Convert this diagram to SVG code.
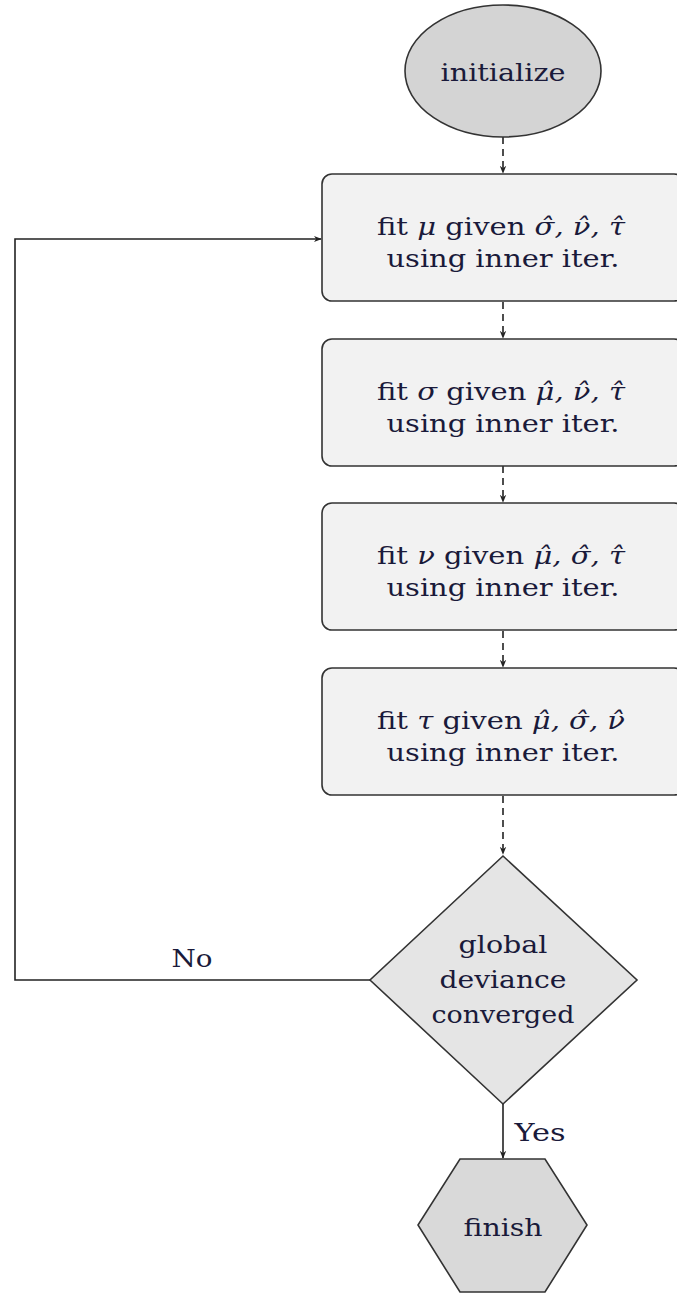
<svg xmlns="http://www.w3.org/2000/svg" width="677" height="1294" viewBox="0 0 677 1294">
<style>
.t{font-family:'DejaVu Serif',serif;font-size:25px;fill:#1a1a3a;text-anchor:middle}
.m{font-style:italic}
.box{fill:#f2f2f2;stroke:#333;stroke-width:1.6}
.c{fill:none;stroke:#222;stroke-width:1.6}
.d{stroke-dasharray:7 5}
</style>
<defs>
<marker id="ah" viewBox="0 0 10 10" refX="9" refY="5" markerWidth="8" markerHeight="8" markerUnits="userSpaceOnUse" orient="auto">
<path d="M0,1 L10,5 L0,9 L3,5 Z" fill="#222"/>
</marker>
</defs>
<g id="connectors">
<path class="c d" d="M503,137 V173" marker-end="url(#ah)"/>
<path class="c d" d="M503,302 V338" marker-end="url(#ah)"/>
<path class="c d" d="M503,466 V502" marker-end="url(#ah)"/>
<path class="c d" d="M503,631 V667" marker-end="url(#ah)"/>
<path class="c d" d="M503,796 V854" marker-end="url(#ah)"/>
<path class="c" d="M370,980 H15 V239 H321" marker-end="url(#ah)"/>
<path class="c" d="M503,1104 V1158" marker-end="url(#ah)"/>
<text class="t" x="192" y="967" textLength="41" lengthAdjust="spacingAndGlyphs">No</text>
<text class="t" x="540" y="1141" textLength="51" lengthAdjust="spacingAndGlyphs">Yes</text>
</g>
<g id="initialize">
<ellipse cx="503" cy="71" rx="98" ry="66" fill="#d4d4d4" stroke="#333" stroke-width="1.6"/>
<text class="t" x="503" y="81" textLength="125" lengthAdjust="spacingAndGlyphs">initialize</text>
</g>
<g id="fit_mu">
<rect class="box" x="322" y="174" width="362" height="127" rx="10"/>
<text class="t" x="501" y="235" textLength="248" lengthAdjust="spacingAndGlyphs">fit <tspan class="m">μ</tspan> given <tspan class="m">σ̂, ν̂, τ̂</tspan></text>
<text class="t" x="503" y="267" textLength="233" lengthAdjust="spacingAndGlyphs">using inner iter.</text>
</g>
<g id="fit_sigma">
<rect class="box" x="322" y="339" width="362" height="127" rx="10"/>
<text class="t" x="501" y="400" textLength="248" lengthAdjust="spacingAndGlyphs">fit <tspan class="m">σ</tspan> given <tspan class="m">μ̂, ν̂, τ̂</tspan></text>
<text class="t" x="503" y="432" textLength="233" lengthAdjust="spacingAndGlyphs">using inner iter.</text>
</g>
<g id="fit_nu">
<rect class="box" x="322" y="503" width="362" height="127" rx="10"/>
<text class="t" x="501" y="564" textLength="248" lengthAdjust="spacingAndGlyphs">fit <tspan class="m">ν</tspan> given <tspan class="m">μ̂, σ̂, τ̂</tspan></text>
<text class="t" x="503" y="596" textLength="233" lengthAdjust="spacingAndGlyphs">using inner iter.</text>
</g>
<g id="fit_tau">
<rect class="box" x="322" y="668" width="362" height="127" rx="10"/>
<text class="t" x="501" y="729" textLength="248" lengthAdjust="spacingAndGlyphs">fit <tspan class="m">τ</tspan> given <tspan class="m">μ̂, σ̂, ν̂</tspan></text>
<text class="t" x="503" y="761" textLength="233" lengthAdjust="spacingAndGlyphs">using inner iter.</text>
</g>
<g id="converged">
<polygon points="503,856 637,980 503,1104 370,980" fill="#e5e5e5" stroke="#333" stroke-width="1.6"/>
<text class="t" x="503" y="953" textLength="89" lengthAdjust="spacingAndGlyphs">global</text>
<text class="t" x="503" y="988" textLength="127" lengthAdjust="spacingAndGlyphs">deviance</text>
<text class="t" x="503" y="1023" textLength="143" lengthAdjust="spacingAndGlyphs">converged</text>
</g>
<g id="finish">
<polygon points="460,1159 545,1159 587,1225 545,1292 460,1292 418,1225" fill="#d9d9d9" stroke="#333" stroke-width="1.6"/>
<text class="t" x="503" y="1236" textLength="79" lengthAdjust="spacingAndGlyphs">finish</text>
</g>
</svg>
